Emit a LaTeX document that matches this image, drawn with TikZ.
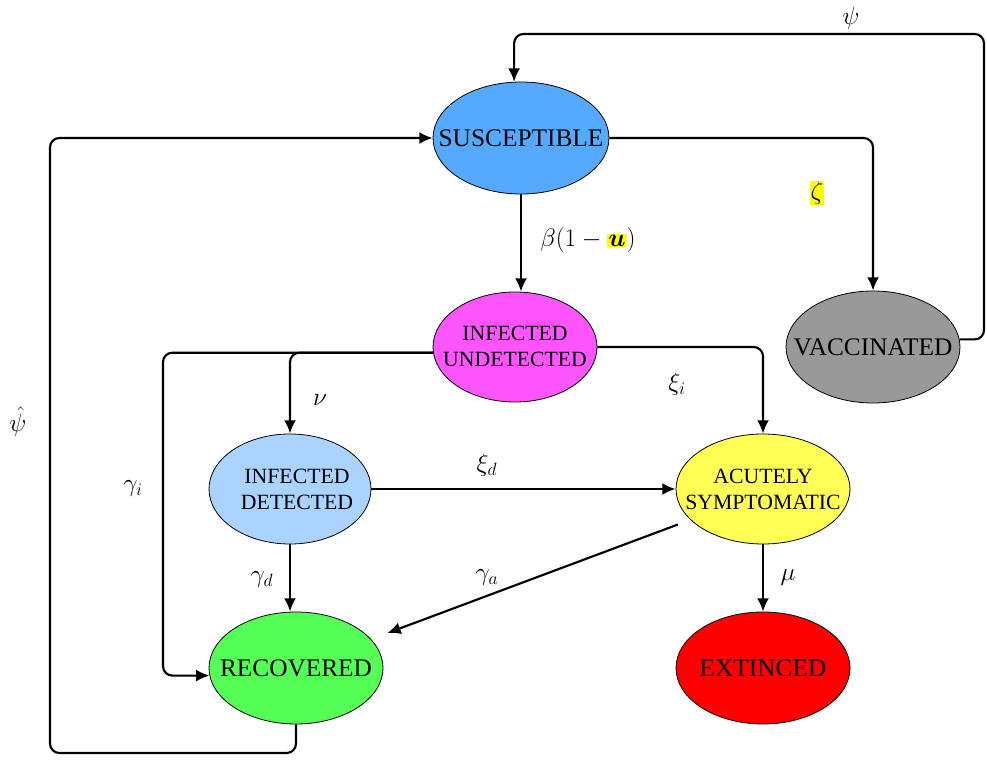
\RequirePackage{fix-cm}
\documentclass[tikz,border=0pt]{standalone}
\usepackage{amsmath}
\usepackage{fontspec}
\setmainfont{Liberation Serif}
\usetikzlibrary{shapes.geometric,arrows.meta}
\definecolor{cS}{HTML}{55AAFF}
\definecolor{cIU}{HTML}{FF55FF}
\definecolor{cV}{HTML}{999999}
\definecolor{cID}{HTML}{AAD4FF}
\definecolor{cA}{HTML}{FFFF55}
\definecolor{cR}{HTML}{55FF55}
\definecolor{cE}{HTML}{FF0000}
\definecolor{hl}{HTML}{FFFF00}
\setlength{\fboxsep}{0.8pt}
\begin{document}
\begin{tikzpicture}[x=0.75pt,y=-0.75pt,
  st/.style={ellipse, draw=black, line width=0.6pt, inner sep=0pt},
  arr/.style={-{Latex[length=10pt,width=9pt]}, line width=1.6pt, rounded corners=7pt},
  lab/.style={font=\fontsize{19}{22}\selectfont, inner sep=0pt},
  bigtxt/.style={font=\fontsize{19}{22}\selectfont, inner sep=0pt},
  twotxt/.style={font=\fontsize{16.3}{19.5}\selectfont, align=center, inner sep=0pt}]
\useasboundingbox (0,0) rectangle (987,762);
% states
\node[st, fill=cS, minimum width=132pt, minimum height=84pt] (s) at (521,138) {};
\node[bigtxt] (s-t) at (s) {SUSCEPTIBLE};
\node[st, fill=cIU, minimum width=123pt, minimum height=82.5pt] (iu) at (515,347) {};
\node[twotxt] (iu-t) at (515,346) {INFECTED\\UNDETECTED};
\node[st, fill=cV, minimum width=130.5pt, minimum height=84pt] (v) at (873,347) {};
\node[bigtxt] (v-t) at (v) {VACCINATED};
\node[st, fill=cID, minimum width=121.5pt, minimum height=82.5pt] (id) at (290,489) {};
\node[twotxt] (id-t) at (297,489) {INFECTED\\DETECTED};
\node[st, fill=cA, minimum width=130.5pt, minimum height=82.5pt] (a) at (763,489) {};
\node[twotxt] (a-t) at (763,489) {ACUTELY\\SYMPTOMATIC};
\node[st, fill=cR, minimum width=130.5pt, minimum height=84pt] (r) at (296,668) {};
\node[bigtxt] (r-t) at (r) {RECOVERED};
\node[st, fill=cE, minimum width=130.5pt, minimum height=84pt] (e) at (763,668) {};
\node[bigtxt] (e-t) at (e) {EXTINCED};
% helper coordinates
\coordinate (psiTR) at (984,34);
\coordinate (gx) at (163,352);
\coordinate (hb) at (50,753);
% connectors
\draw[arr] (v.5) -| (psiTR) -| (s.97);
\draw[arr] (s.east) -| (v.north);
\draw[arr] (s.south) -- (s.south |- iu.north);
\draw[arr] (iu.184) -| (id.north);
\draw[arr] (iu.184) -- (iu.184 -| gx) |- (r.185);
\draw[arr] (iu.east) -| (a.north);
\draw[arr] (id.east) -- (a.west);
\draw[arr] (id.south) -- (id.south |- r.north);
\draw[arr, shorten <=10pt, shorten >=13pt] (a.203) -- (r.21);
\draw[arr] (a.south) -- (e.north);
\draw[arr] (r.south) |- (hb) |- (s.west);
% labels
\node[lab] (l-psi) at (851,18) {$\psi$};
\node[lab] (l-zeta) at (817,193) {\colorbox{hl}{$\zeta$}};
\node[lab] (l-beta) at (588,240) {$\beta(1-\colorbox{hl}{$\boldsymbol{u}$})$};
\node[lab] (l-nu) at (320,400) {$\nu$};
\node[lab] (l-xii) at (677,384) {$\xi_i$};
\node[lab] (l-gi) at (133,489) {$\gamma_i$};
\node[lab] (l-xid) at (487,465) {$\xi_d$};
\node[lab] (l-gd) at (262,580) {$\gamma_d$};
\node[lab] (l-ga) at (487,578) {$\gamma_a$};
\node[lab] (l-mu) at (788,578) {$\mu$};
\node[lab] (l-psih) at (18,422) {$\hat{\psi}$};
\end{tikzpicture}
\end{document}
